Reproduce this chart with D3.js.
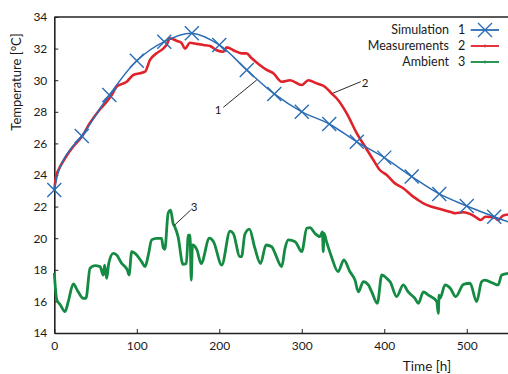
<!DOCTYPE html>
<html><head><meta charset="utf-8">
<script src="https://cdn.jsdelivr.net/npm/d3@7/dist/d3.min.js"></script>
<style>
html,body{margin:0;padding:0;background:#fff;}
text{font-family:Lato,"Open Sans",sans-serif;fill:#1a1a1a;}
</style></head>
<body><svg id="c" width="508" height="374"></svg>
<script>
// ---- data ----
const simMarkTime = [0,33.3,66.7,100,133.3,166.7,200,233.3,266.7,300,333.3,366.7,400,433.3,466.7,500,533.3];
const simMarkTemp = [23.05,26.47,29.06,31.23,32.44,32.97,32.23,30.65,29.13,28.0,27.23,26.1,25.1,23.9,22.8,22.04,21.36];
const simTime = [0,5,11,19,33.3,66.7,100,133.3,166.7,200,233.3,266.7,300,333.3,366.7,400,433.3,466.7,500,533.3,550];
const simTemp = [23.05,24.2,24.95,25.6,26.47,29.06,31.23,32.44,32.97,32.23,30.65,29.13,28.0,27.23,26.1,25.1,23.9,22.8,22.04,21.36,21.04];
const measTime = [0,2,4.9,13,23,33,43,55.4,63.5,69.6,75.6,87.8,95.8,103.9,110,116,124,132,136,140.3,148,154,158.5,164.5,172.6,180.7,188.8,196.9,205,209,217,227,233,239,249,257.5,265.5,275.7,285.8,300,308,318,328,336,344,354.5,366.7,376.7,386.8,394.9,403,413,423,435,441,447.5,457.5,469.7,481.8,486,496,508,517,522.6,534.3,538,544,550];
const measTemp = [23.0,23.9,24.3,25.06,25.8,26.4,27.27,28.16,28.64,29.06,29.6,29.9,30.33,30.44,30.54,31.28,31.7,32.0,32.23,32.65,32.5,32.37,32.0,32.37,32.3,32.23,32.16,31.9,31.8,32.08,31.9,31.7,31.7,31.4,30.96,30.65,30.44,29.9,30.0,29.7,30.0,29.8,29.59,29.17,28.75,27.9,26.64,25.8,24.95,24.3,24.0,23.47,23.16,22.63,22.42,22.2,21.99,21.82,21.64,21.58,21.64,21.43,21.15,21.36,21.3,21.15,21.43,21.5];
const ambTime = [0,3,7,13,17,23,29,35,38.4,43.3,49.3,55.4,59.4,61,63.5,66,71.5,75.6,81.7,85.7,88.5,90.6,93.8,99.9,106,110,114,118,124,130,132,134,138,141,144,146,150,156,160,162.5,164.5,166,167.5,173,178,188,193,203,213,217,225,227,231,236.5,243,250,256.7,263.6,267.6,275.7,279.7,283.8,292,300,306,310,316,322,325,326,327,330,336,344,351,358.4,364.5,368.6,374.6,380.7,384.8,391.6,397,401,405,407,415,423,429,437,441.3,447.4,453.5,463.6,465.5,466.5,467.6,473.7,480,486.6,496,504,512,518,522,532,538,542.4,550];
const ambTemp = [17.8,16.1,15.8,15.35,16.0,17.1,16.6,16.2,16.2,18.1,18.26,18.2,17.67,18.3,17.46,18.4,19.04,18.94,18.4,18.2,17.99,17.67,19.15,18.94,18.5,18.2,18.94,19.89,19.99,19.99,19.4,19.3,21.58,21.78,20.94,20.73,20.1,18.35,18.4,20.2,20.2,17.35,19.57,19.25,18.4,20.0,19.78,18.3,20.45,20.3,18.83,18.83,20.25,20.58,19.4,18.4,19.57,19.46,19.04,18.2,19.36,19.89,19.78,19.15,20.63,20.67,20.3,20.1,20.4,19.15,20.3,19.78,18.83,17.88,18.62,17.88,17.35,16.6,17.25,17.04,16.6,15.88,17.67,17.56,17.35,17.25,16.3,17.04,16.6,16.2,15.88,16.6,16.4,16.0,15.25,16.4,16.2,17.04,16.83,16.3,17.08,17.15,15.98,17.25,17.35,17.15,17.04,17.67,17.78];
const xTicks = [0,100,200,300,400,500];
const yTicks = [14,16,18,20,22,24,26,28,30,32,34];
const legendNames = ["Simulation","Measurements","Ambient"];
const legendNums = ["1","2","3"];
const colors = ["#2a6db5","#e0222a","#158a42"];

// ---- chart ----
const svg = d3.select("#c");
const x = d3.scaleLinear().domain([0,550]).range([54.3,508]);
const y = d3.scaleLinear().domain([14,34]).range([333,17]);

// axes
const gx = svg.append("g").attr("transform","translate(0,333)")
  .call(d3.axisBottom(x).tickValues(xTicks).tickSize(-4).tickPadding(8).tickSizeOuter(0));
const gy = svg.append("g").attr("transform","translate(54.3,0)")
  .call(d3.axisLeft(y).tickValues(yTicks).tickSize(-4).tickPadding(7).tickSizeOuter(0));
[gx,gy].forEach(g=>{
  g.select(".domain").attr("stroke","#222").attr("stroke-width",1.6);
  g.selectAll(".tick line").attr("stroke","#222").attr("stroke-width",1);
  g.selectAll(".tick text").style("font-family","Lato, sans-serif").style("font-size","12px").attr("fill","#1a1a1a");
});
// top frame
svg.append("line").attr("x1",x(0)).attr("x2",x(550)).attr("y1",y(34)).attr("y2",y(34))
  .attr("stroke","#222").attr("stroke-width",1.6);

// lines
const line = (xs,ys,curve)=>d3.line().x((d,i)=>x(xs[i])).y((d,i)=>y(ys[i])).curve(curve)(xs);
svg.append("path").attr("d",line(ambTime,ambTemp,d3.curveMonotoneX))
  .attr("fill","none").attr("stroke",colors[2]).attr("stroke-width",2.8).attr("stroke-linejoin","round");
svg.append("path").attr("d",line(measTime,measTemp,d3.curveMonotoneX))
  .attr("fill","none").attr("stroke",colors[1]).attr("stroke-width",2.6).attr("stroke-linejoin","round");
svg.append("path").attr("d",line(simTime,simTemp,d3.curveCatmullRom))
  .attr("fill","none").attr("stroke",colors[0]).attr("stroke-width",1.5);
const m = 7;
const cross = (cx,cy)=>`M${cx-m},${cy-m}L${cx+m},${cy+m}M${cx-m},${cy+m}L${cx+m},${cy-m}`;
svg.append("g").selectAll("path").data(simMarkTime).join("path")
  .attr("d",(d,i)=>cross(x(d),y(simMarkTemp[i])))
  .attr("stroke",colors[0]).attr("stroke-width",1.4).attr("fill","none");

// annotations
const ann = [
  {n:"1", x1:223.3,y1:107.3,x2:256.7,y2:80, tx:218,ty:114},
  {n:"2", x1:332.7,y1:93.3,x2:360.7,y2:81.7, tx:365,ty:87},
  {n:"3", x1:174,y1:225.7,x2:190.7,y2:210, tx:194,ty:211}
];
ann.forEach(a=>{
  svg.append("line").attr("x1",a.x1).attr("y1",a.y1).attr("x2",a.x2).attr("y2",a.y2)
    .attr("stroke","#111").attr("stroke-width",0.9);
  svg.append("text").attr("x",a.tx).attr("y",a.ty).attr("text-anchor","middle")
    .style("font-size","11.5px").text(a.n);
});

// legend
const lg = svg.append("g");
legendNames.forEach((nm,i)=>{
  const ly = 30 + i*16;
  lg.append("text").attr("x",449).attr("y",ly+4).attr("text-anchor","end").style("font-size","12.5px").text(nm);
  lg.append("text").attr("x",461.7).attr("y",ly+4).attr("text-anchor","middle").style("font-size","12.5px").text(legendNums[i]);
  lg.append("line").attr("x1",470.7).attr("x2",499).attr("y1",ly).attr("y2",ly)
    .attr("stroke",colors[i]).attr("stroke-width",1.8);
  if(i===0){
    lg.append("path").attr("d",cross(485,ly)).attr("stroke",colors[0]).attr("stroke-width",1.4);
  } else {
    lg.append("line").attr("x1",485).attr("x2",485).attr("y1",ly-1.5).attr("y2",ly+1.5)
      .attr("stroke",colors[i]).attr("stroke-width",1);
  }
});

// axis titles
svg.append("text").attr("transform","translate(21,82) rotate(-90)").attr("text-anchor","middle")
  .style("font-size","13px").text("Temperature [°C]");
svg.append("text").attr("x",427).attr("y",371).attr("text-anchor","middle")
  .style("font-size","13.5px").text("Time [h]");
</script></body></html>
